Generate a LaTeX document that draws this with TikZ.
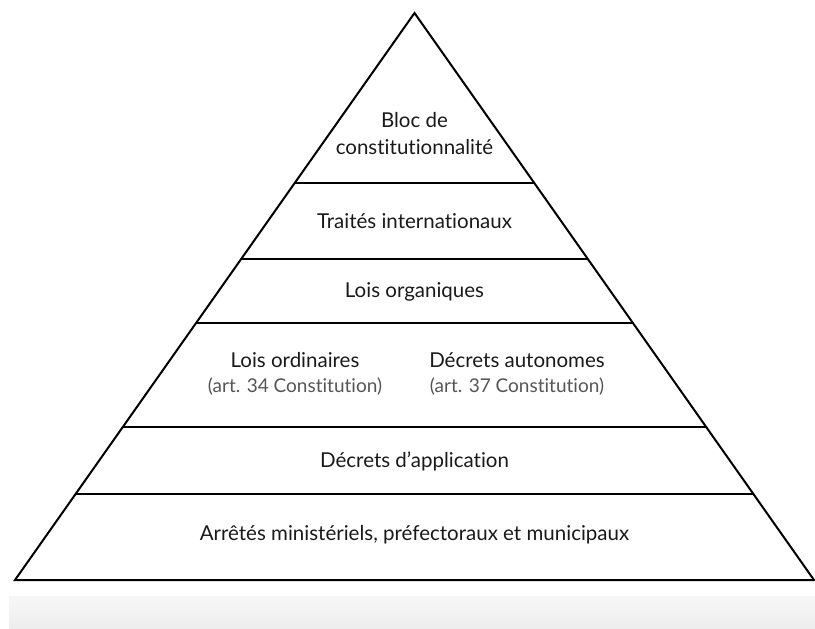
\documentclass[tikz,border=0pt]{standalone}
\usepackage{fontspec}
\setmainfont{Lato}[Ligatures=NoCommon]
\usepackage{tikz}
\usetikzlibrary{positioning,calc}
\definecolor{inkdark}{HTML}{1A1A1A}
\definecolor{inkgrey}{HTML}{555555}
\definecolor{bandgrey}{HTML}{EDEDED}

\tikzset{
  level/.style={text=inkdark,font=\fontsize{20.5}{27}\selectfont,align=center},
  note/.style={text=inkgrey,font=\fontsize{19}{23}\selectfont},
  edge/.style={line width=2pt,black}
}

\begin{document}
\begin{tikzpicture}[x=1pt,y={(0,-1pt)}]
  \useasboundingbox (0,0) rectangle (815,629);
  \shade[top color=white!97!black,bottom color=bandgrey] (9,596) rectangle (815,629);
  % pyramid outline
  \coordinate (top) at (414.5,13);
  \coordinate (bl) at (15,580);
  \coordinate (br) at (814,580);
  \draw[edge,line join=miter] (top) -- (bl) -- (br) -- cycle;
  % floors
  \foreach \t/\n in {0.2998/a,0.4339/b,0.5467/c,0.7302/d,0.8483/e}
    \draw[edge] ($(top)!\t!(bl)$) coordinate (l\n) -- ($(top)!\t!(br)$) coordinate (r\n);
  % labels
  \node[level] (bloc) at (414.5,134) {Bloc de\\constitutionnalité};
  \node[level] (traites) at (414.5,221) {Traités internationaux};
  \node[level] (organ) at (414.5,292) {Lois organiques};
  \node[level] (ordin) at (295,360) {Lois ordinaires};
  \node[note] (art34) at (295,387) {(art. 34 Constitution)};
  \node[level] (auton) at (517,360) {Décrets autonomes};
  \node[note] (art37) at (517,387) {(art. 37 Constitution)};
  \node[level] (appli) at (414.5,461) {Décrets d’application};
  \node[level] (arretes) at (414.5,535) {Arrêtés ministériels, préfectoraux et municipaux};
\end{tikzpicture}
\end{document}
